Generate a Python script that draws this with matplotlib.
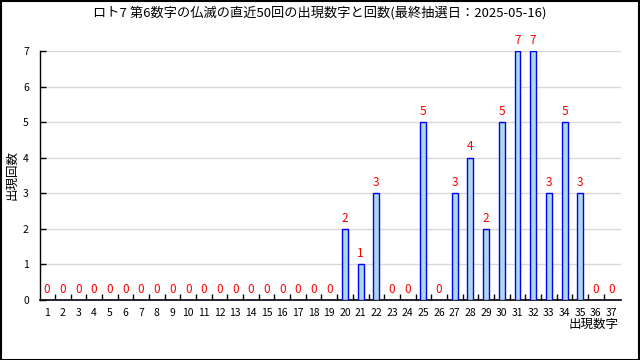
import matplotlib.pyplot as plt
import numpy as np
from matplotlib.patches import Rectangle

plt.rcParams['font.family'] = ['Noto Sans CJK JP', 'DejaVu Sans']

title = 'ロト7 第6数字の仏滅の直近50回の出現数字と回数(最終抽選日：2025-05-16)'
numbers = list(range(1, 38))
counts = [0] * 19 + [2, 1, 3, 0, 0, 5, 0, 3, 4, 2, 5, 7, 7, 3, 5, 3, 0, 0]

fig = plt.figure(figsize=(6.4, 3.6), dpi=100)
# plot area: y=0 at 300px, y=7 at 51px
ax = fig.add_axes([40 / 640, 60 / 360, 581 / 640, 249 / 360])

ax.bar(numbers, counts, width=0.38, color='lightblue', edgecolor='blue', linewidth=1, zorder=3)
for n, c in zip(numbers, counts):
    ax.text(n, c + 0.12, str(c), color='red', ha='center', va='bottom', fontsize=8.5,
            zorder=4, clip_on=False)

ax.set_xlim(0.55, 37.6)
ax.set_ylim(0, 7)
ax.set_xticks(numbers)
ax.set_xticklabels([str(n) for n in numbers], fontsize=7.5)
ax.set_xticks(np.arange(1.5, 37.5, 1), minor=True)
ax.tick_params(axis='x', which='major', length=0, pad=6)
ax.tick_params(axis='x', which='minor', length=4, direction='in', width=1)
ax.set_yticks(range(8))
ax.set_yticklabels([str(v) for v in range(8)], fontsize=7.5)
ax.tick_params(axis='y', length=4, direction='in', width=1, pad=8)
ax.grid(axis='y', color='#d8d8d8', linewidth=1, zorder=0)
for side in ['top', 'right']:
    ax.spines[side].set_visible(False)
ax.spines['left'].set_linewidth(1)
ax.spines['bottom'].set_linewidth(1.2)

fig.text(12 / 640, 1 - 175 / 360, '出現回数', fontsize=9, rotation=90, ha='center', va='center')
fig.text(619 / 640, 1 - 324 / 360, '出現数字', fontsize=9, ha='right', va='center')
fig.text(0.5, 1 - 13 / 360, title, fontsize=9.5, ha='center', va='center')

fig.patches.append(Rectangle((0.5 / 640, 0.5 / 360), 638.5 / 640, 358.5 / 360, transform=fig.transFigure,
                             fill=False, edgecolor='black', linewidth=1.5))

fig.savefig('out.png', dpi=100)
